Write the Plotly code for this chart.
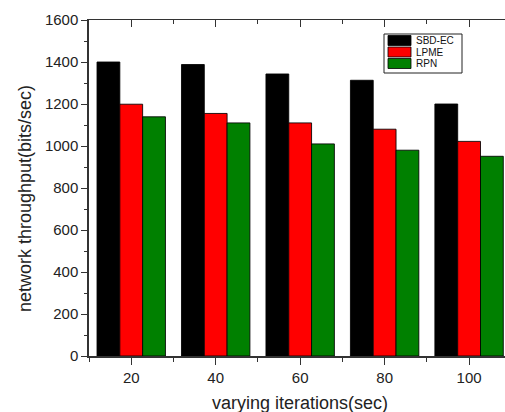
import plotly.graph_objects as go

# Throughput per scheme at each iteration setting
iterations = [20, 40, 60, 80, 100]
series_names = ["SBD-EC", "LPME", "RPN"]
sbd_ec = [1400, 1388, 1343, 1313, 1200]
lpme = [1199, 1155, 1110, 1080, 1022]
rpn = [1139, 1110, 1010, 980, 951]
tick_labels = ["20", "40", "60", "80", "100"]

colors = ["#000000", "#ff0000", "#008000"]
values = [sbd_ec, lpme, rpn]

W, H = 505, 412
ML, MR, MT, MB = 89, 0, 20, 56
PW, PH = W - ML - MR, H - MT - MB

FAMILY = "Liberation Sans"

fig = go.Figure()
for name, vals, col in zip(series_names, values, colors):
    fig.add_trace(go.Bar(
        x=iterations, y=vals, name=name,
        marker=dict(color=col, line=dict(color="rgba(0,0,0,0.85)", width=1)),
        showlegend=False,
    ))

# invisible trace so the mirrored top axis gets drawn
fig.add_trace(go.Scatter(x=iterations, y=[None] * len(iterations), xaxis="x2",
                         mode="markers", showlegend=False, hoverinfo="skip"))

axis_col = "#333333"
tick_font = dict(family=FAMILY, size=15, color="#222222")

fig.update_layout(
    width=W, height=H,
    margin=dict(l=ML, r=MR, t=MT, b=MB, pad=0),
    paper_bgcolor="white", plot_bgcolor="white",
    barmode="group", bargap=0.19, bargroupgap=0,
    xaxis=dict(
        range=[10, 108.5], tickmode="array", tickvals=iterations, ticktext=tick_labels,
        ticks="outside", ticklen=7, tickwidth=1.2, tickcolor=axis_col,
        minor=dict(dtick=10, tick0=10, ticks="outside", ticklen=4, tickcolor=axis_col, tickwidth=1),
        showline=True, linecolor=axis_col, linewidth=1.5,
        showgrid=False, zeroline=False, tickfont=tick_font,
    ),
    xaxis2=dict(
        overlaying="x", side="top", matches="x", range=[10, 108.5],
        tickmode="array", tickvals=iterations, showticklabels=False,
        ticks="inside", ticklen=7, tickwidth=1.2, tickcolor=axis_col,
        minor=dict(dtick=10, tick0=10, ticks="inside", ticklen=4, tickcolor=axis_col, tickwidth=1),
        showline=True, linecolor=axis_col, linewidth=1.2,
        showgrid=False, zeroline=False,
    ),
    yaxis=dict(
        range=[0, 1600], tick0=0, dtick=200,
        ticks="outside", ticklen=6, tickwidth=1.2, tickcolor=axis_col,
        minor=dict(dtick=100, ticks="outside", ticklen=3, tickcolor=axis_col, tickwidth=1),
        showline=True, linecolor=axis_col, linewidth=1.5,
        showgrid=False, zeroline=False, tickfont=tick_font,
    ),
    font=dict(family=FAMILY, color="#222222"),
)

# axis titles
fig.add_annotation(text="network throughput(bits/sec)", xref="paper", yref="paper",
                   x=(25 - ML) / PW, y=(H - MB - 199) / PH, textangle=-90,
                   showarrow=False, font=dict(family=FAMILY, size=18, color="#222222"),
                   xanchor="center", yanchor="middle")
fig.add_annotation(text="varying iterations(sec)", xref="paper", yref="paper",
                   x=(300 - ML) / PW, y=(H - MB - 403) / PH,
                   showarrow=False, font=dict(family=FAMILY, size=18, color="#222222"),
                   xanchor="center", yanchor="middle")

# legend box with wide swatches
def px_x(p):
    return (p - ML) / PW

def px_y(p):
    return (H - MB - p) / PH

fig.add_shape(type="rect", xref="paper", yref="paper",
              x0=px_x(384), x1=px_x(462), y0=px_y(73), y1=px_y(34),
              line=dict(color="#222222", width=1), fillcolor="white", layer="above")
row_centers = [40.5, 52, 63.5]
for name, col, cy in zip(series_names, colors, row_centers):
    fig.add_shape(type="rect", xref="paper", yref="paper",
                  x0=px_x(388), x1=px_x(411), y0=px_y(cy + 5), y1=px_y(cy - 5),
                  line=dict(color="#000000", width=0.8), fillcolor=col, layer="above")
    fig.add_annotation(text=name, xref="paper", yref="paper",
                       x=px_x(414), y=px_y(cy), xanchor="left", yanchor="middle",
                       showarrow=False, font=dict(family=FAMILY, size=10, color="#111111"))

fig.write_html("out.html")
